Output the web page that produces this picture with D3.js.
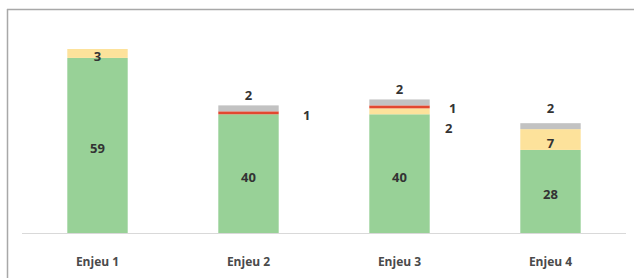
<!DOCTYPE html>
<html>
<head>
<meta charset="utf-8">
<script src="https://cdn.jsdelivr.net/npm/d3@7"></script>
<style>
  body { margin: 0; background: #fff; }
  svg { display: block; font-family: "Open Sans", sans-serif; }
</style>
</head>
<body>
<div id="chart"></div>
<script>
// data
var categories = ["Enjeu 1", "Enjeu 2", "Enjeu 3", "Enjeu 4"];
var seriesNames = ["vert", "jaune", "rouge", "gris"];
var vert = [59, 40, 40, 28];
var jaune = [3, 0, 2, 7];
var rouge = [0, 1, 1, 0];
var gris = [0, 2, 2, 2];

var colors = { vert: "#98d197", jaune: "#fde29b", rouge: "#e2472f", gris: "#c2c2c2" };

var svgWidth = 634, svgHeight = 278;

var svg = d3.select("#chart").append("svg")
  .attr("width", svgWidth)
  .attr("height", svgHeight);

// frame lines (top and left)
svg.append("line").attr("x1", 7).attr("x2", svgWidth).attr("y1", 9.5).attr("y2", 9.5)
  .attr("stroke", "#a8a8a8").attr("stroke-width", 1.5);
svg.append("line").attr("x1", 7.5).attr("x2", 7.5).attr("y1", 9).attr("y2", svgHeight)
  .attr("stroke", "#a8a8a8").attr("stroke-width", 1.5);

var x = d3.scaleBand()
  .domain(categories)
  .range([22, 626])
  .paddingInner(0.6)
  .paddingOuter(0.3);

var y = d3.scaleLinear()
  .domain([0, 62])
  .range([233, 49]);

var table = categories.map(function(c, i) {
  return { cat: c, vert: vert[i], jaune: jaune[i], rouge: rouge[i], gris: gris[i] };
});

var stack = d3.stack().keys(seriesNames)(table);

stack.forEach(function(layer) {
  svg.append("g").selectAll("rect")
    .data(layer)
    .enter()
    .append("rect")
    .attr("x", function(d) { return x(d.data.cat); })
    .attr("width", x.bandwidth())
    .attr("y", function(d) { return y(d[1]); })
    .attr("height", function(d) { return y(d[0]) - y(d[1]); })
    .attr("fill", colors[layer.key]);
});

// baseline
svg.append("line")
  .attr("x1", 22).attr("x2", 626)
  .attr("y1", y(0) + 0.5).attr("y2", y(0) + 0.5)
  .attr("stroke", "#d9d9d9").attr("stroke-width", 1.2);

// where each small label goes
function placement(key, i) {
  if (key === "gris") return { mode: "above", dx: 0, dy: i === 3 ? -10 : -5 };
  if (key === "rouge") return { mode: "right", dx: i === 1 ? 28 : 23, dy: i === 1 ? 7 : 6 };
  if (key === "jaune" && i === 2) return { mode: "right", dx: 19, dy: 22 };
  return { mode: "inside", dx: 0, dy: 8 };
}

stack.forEach(function(layer) {
  svg.append("g").selectAll("text")
    .data(layer.filter(function(d) { return d[1] - d[0] > 0; }))
    .enter()
    .append("text")
    .attr("text-anchor", "middle")
    .attr("font-size", 13)
    .attr("font-weight", 700)
    .attr("fill", "#333")
    .attr("x", function(d) {
      var i = categories.indexOf(d.data.cat);
      var p = placement(layer.key, i);
      if (p.mode === "right") return x(d.data.cat) + x.bandwidth() + p.dx;
      return x(d.data.cat) + x.bandwidth() / 2;
    })
    .attr("y", function(d) {
      var i = categories.indexOf(d.data.cat);
      var p = placement(layer.key, i);
      if (p.mode === "above") return y(d[1]) + p.dy;
      return (y(d[0]) + y(d[1])) / 2 + p.dy;
    })
    .text(function(d) { return d[1] - d[0]; });
});

// category labels
svg.append("g").selectAll("text")
  .data(categories)
  .enter()
  .append("text")
  .attr("x", function(d) { return x(d) + x.bandwidth() / 2; })
  .attr("y", 266)
  .attr("text-anchor", "middle")
  .attr("font-size", 12)
  .attr("font-weight", 700)
  .attr("fill", "#4a4a4a")
  .text(function(d) { return d; });
</script>
</body>
</html>
